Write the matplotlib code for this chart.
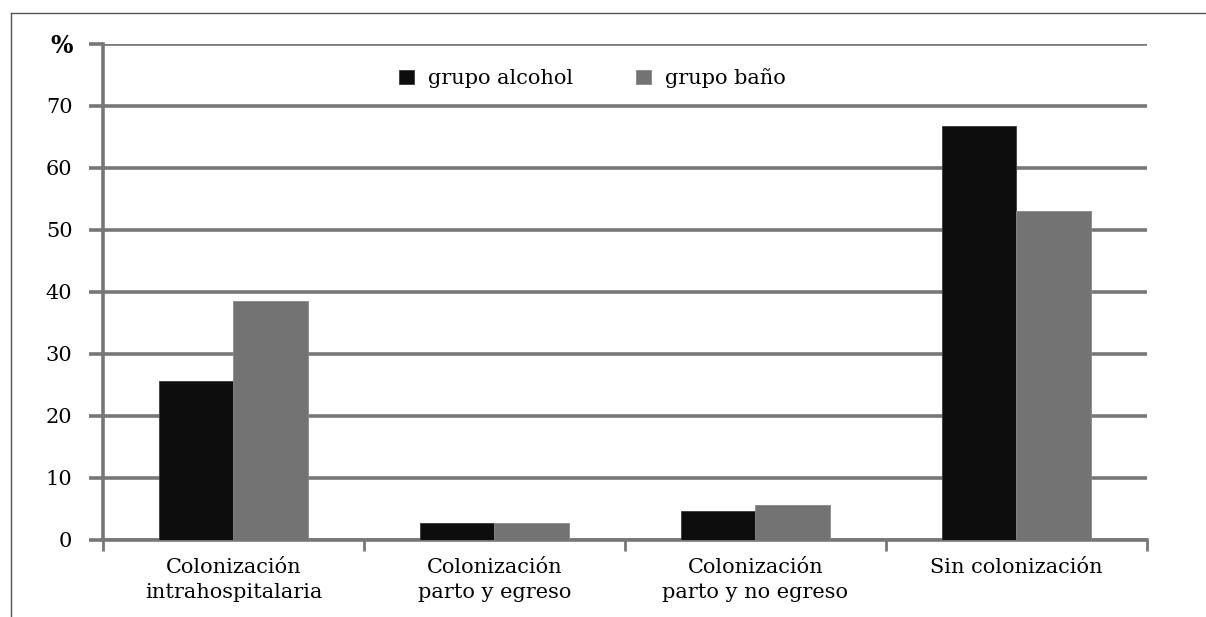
import matplotlib
matplotlib.use("Agg")
import matplotlib.pyplot as plt
from matplotlib.lines import Line2D
import numpy as np

categories = ["Colonización\nintrahospitalaria", "Colonización\nparto y egreso",
              "Colonización\nparto y no egreso", "Sin colonización"]
alcohol = [25.7, 2.8, 4.6, 66.8]
bano = [38.6, 2.8, 5.7, 53.0]
series_names = ["grupo alcohol", "grupo baño"]
yticks = [0, 10, 20, 30, 40, 50, 60, 70, 80]
ytick_labels = ["0", "10", "20", "30", "40", "50", "60", "70", "%"]

plt.rcParams['font.family'] = ['DejaVu Serif']

fig = plt.figure(figsize=(12.06, 6.17), dpi=100)
ax = fig.add_axes([0.0854, 0.1248, 0.951 - 0.0854, 0.9287 - 0.1248])

x = np.arange(len(categories))
w = 0.285
black = "#0d0d0d"
gray = "#737373"
ax.bar(x - w / 2, alcohol, w, color=black, edgecolor="#3a3a3a", linewidth=0.6, zorder=3, label=series_names[0])
ax.bar(x + w / 2, bano, w, color=gray, edgecolor="#888888", linewidth=0.6, zorder=3, label=series_names[1])

ax.set_xlim(-0.5, len(categories) - 0.5)
ax.set_ylim(0, 80)
ax.set_yticks(yticks)
ax.set_yticklabels(ytick_labels, fontsize=15)
lbls = ax.get_yticklabels()
lbls[-1].set_fontweight("bold")
lbls[-1].set_fontsize(17)
ax.yaxis.grid(True, color="#777777", linewidth=2.6, zorder=0)
ax.set_axisbelow(True)

ax.set_xticks(x)
ax.set_xticklabels(categories, fontsize=15, linespacing=1.4)
ax.tick_params(axis="x", which="major", length=0, pad=13)
ax.set_xticks(np.arange(-0.5, len(categories)), minor=True)
ax.tick_params(axis="x", which="minor", length=8, width=2, color="#777777", direction="out")
ax.tick_params(axis="y", length=10, width=2.6, color="#777777", pad=12)

for s in ["top", "right"]:
    ax.spines[s].set_visible(False)
ax.spines["left"].set_color("#777777")
ax.spines["left"].set_linewidth(2.6)
ax.spines["bottom"].set_color("#777777")
ax.spines["bottom"].set_linewidth(2.6)

leg = ax.legend(loc="center", bbox_to_anchor=(0.469, 0.931), ncol=2, frameon=False,
                fontsize=15, handlelength=0.7, handleheight=0.7, columnspacing=3.0,
                handletextpad=0.7)

# outer frame lines
fig.add_artist(Line2D([11 / 1206, 1.0], [1 - 13 / 617, 1 - 13 / 617], color="#555555", linewidth=1.0))
fig.add_artist(Line2D([11 / 1206, 11 / 1206], [0, 1 - 13 / 617], color="#555555", linewidth=1.0))

fig.savefig("out.png", dpi=100)
